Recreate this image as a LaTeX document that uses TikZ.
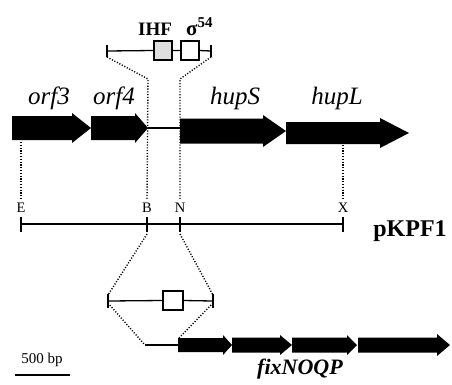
\documentclass[tikz,border=0pt]{standalone}
\usepackage{fontspec}
\setmainfont{Liberation Serif}
\begin{document}
\begin{tikzpicture}[x=1pt,y=-1pt,
  genefill/.style={fill=black},
  backbone/.style={line width=1.3pt},
  tickline/.style={line width=1.3pt},
  guide/.style={line width=1.4pt, dash pattern=on 1.1pt off 1.7pt},
  site/.style={draw, line width=1.1pt, minimum width=18pt, minimum height=19pt, inner sep=0pt},
  genelabel/.style={font=\fontsize{25}{29}\selectfont\itshape, anchor=base, inner sep=0pt},
  sitelabel/.style={font=\fontsize{14.5}{16}\selectfont, inner sep=0pt},
]
\useasboundingbox (0,0) rectangle (452,384);

% filled gene arrow: name, start x, head x, tip x, centre y, half body, half head
\newcommand\genearrow[7]{%
  \fill[genefill] (#2,#5-#6) -- (#3,#5-#6) -- (#3,#5-#7) -- (#4,#5)
    -- (#3,#5+#7) -- (#3,#5+#6) -- (#2,#5+#6) -- cycle;
  \coordinate (#1-s) at (#2,#5);
  \coordinate (#1-t) at (#4,#5);}

% ---- upstream region with IHF and sigma-54 sites
\coordinate (ul) at (107,51);
\coordinate (ur) at (211,51);
\node[site, fill=gray!25] (ihf) at (163,50.5) {};
\node[site, fill=white] (s54) at (190,50.5) {};
\draw[backbone] (ul) -- (ihf.west) (ihf.east) -- (s54.west) (s54.east) -- (ur);
\draw[tickline] ([yshift=-6pt]ul) -- ([yshift=6pt]ul);
\draw[tickline] ([yshift=-6pt]ur) -- ([yshift=6pt]ur);
\node[font=\fontsize{19}{21}\selectfont\bfseries, anchor=base, inner sep=0pt] (ihflab) at (155,35) {IHF};
\node[anchor=base west, inner sep=0pt] (s54lab) at (186,35)
  {{\fontsize{21}{23}\selectfont\bfseries σ}\raisebox{7.5pt}{\fontsize{15}{17}\selectfont\bfseries 54}};

% ---- hup gene cluster
\genearrow{orf3}{12}{72}{91}{128}{12}{15}
\genearrow{orf4}{91}{135}{148}{128}{12}{15}
\genearrow{hupS}{180}{263}{286}{131}{12.5}{16}
\genearrow{hupL}{286}{380}{409}{133}{11}{15}
\draw[line width=1.3pt] (orf4-t) -- (hupS-s |- orf4-t);

\node[genelabel] (lorf3) at (49,104) {orf3};
\node[genelabel] (lorf4) at (114,104) {orf4};
\node[genelabel] (lhupS) at (235,104) {hupS};
\node[genelabel] (lhupL) at (337,104) {hupL};

% ---- pKPF1 restriction map
\coordinate (E) at (21,224);
\coordinate (B) at (147,224);
\coordinate (N) at (180,224);
\coordinate (X) at (343,224);
\draw[backbone] (E) -- (X);
\foreach \p in {E,B,N,X}
  \draw[tickline] ([yshift=-8pt]\p) -- ([yshift=7pt]\p);
\node[sitelabel] (lE) at (21,208) {E};
\node[sitelabel] (lB) at (147,208) {B};
\node[sitelabel] (lN) at (180,208) {N};
\node[sitelabel] (lX) at (343,208) {X};
\node[font=\fontsize{24}{28}\selectfont\bfseries, anchor=base, inner sep=0pt] (pkpf) at (410,236) {pKPF1};

% guides from the map up to the genes (canvas yshift: positive is upward)
\draw[guide] ([yshift=-6pt]ul) -- (148,79) -- ([yshift=4pt]lB.north);
\draw[guide] ([yshift=-6pt]ur) -- (180,79) -- ([yshift=4pt]lN.north);
\draw[guide] (21,142) -- ([yshift=4pt]lE.north);
\draw[guide] (343,142) -- ([yshift=4pt]lX.north);

% ---- fixNOQP upstream region
\coordinate (fl) at (108,301);
\coordinate (fr) at (213,301);
\node[site, fill=white, minimum width=20pt] (fbox) at (173,300.5) {};
\draw[backbone] (fl) -- (fbox.west) (fbox.east) -- (fr);
\draw[tickline] ([yshift=-7pt]fl) -- ([yshift=7pt]fl);
\draw[tickline] ([yshift=-7pt]fr) -- ([yshift=7pt]fr);
\draw[guide] ([yshift=-10pt]B) -- ([yshift=6pt]fl);
\draw[guide] ([yshift=-10pt]N) -- ([yshift=6pt]fr);

% ---- fixNOQP operon
\genearrow{fixN}{178}{223}{232}{345}{7}{10}
\genearrow{fixO}{232}{280}{292}{345}{7.5}{10}
\genearrow{fixQ}{292}{347}{357}{345}{7.5}{10}
\genearrow{fixP}{358}{437}{450}{345}{7.5}{11}
\coordinate (fstart) at (145,345);
\draw[line width=1.3pt] (fstart) -- (fixN-s);
\draw[guide] ([yshift=-2pt]fl) -- (fstart);
\draw[guide] ([yshift=-2pt]fr) -- (179,338);
\node[font=\fontsize{22}{26}\selectfont\bfseries\itshape, anchor=base, inner sep=0pt] (lfix) at (300,374) {fixNOQP};

% ---- scale bar
\node[font=\fontsize{15}{17}\selectfont, anchor=base, inner sep=0pt] (scl) at (42,363) {500 bp};
\coordinate (sb1) at (15,375);
\coordinate (sb2) at (70,375);
\draw[line width=1.4pt] (sb1) -- (sb2);
\end{tikzpicture}
\end{document}
